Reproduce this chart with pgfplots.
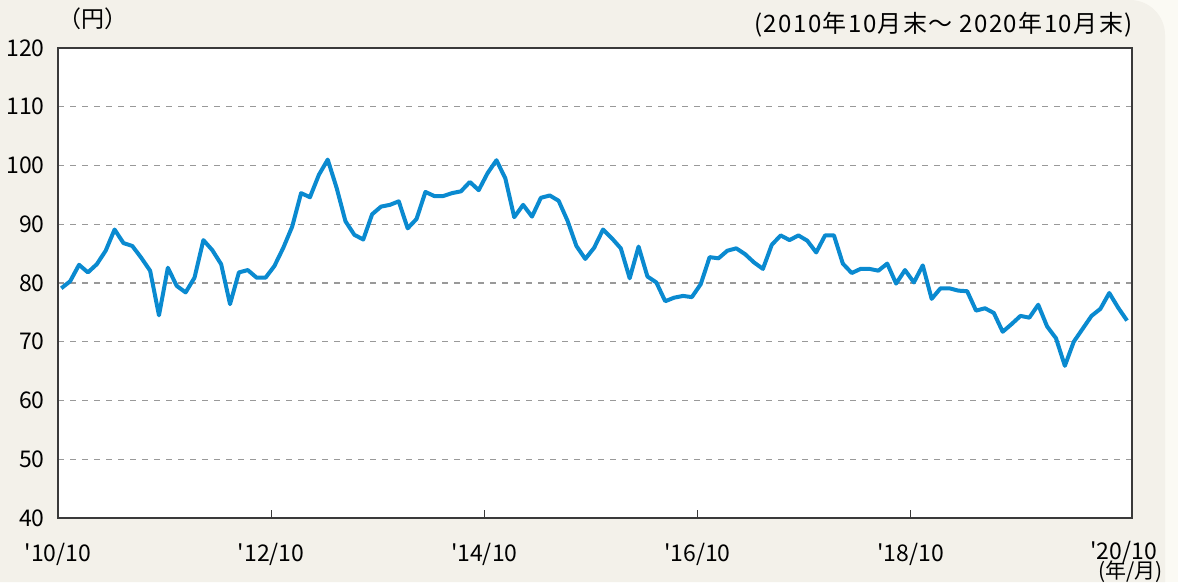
\documentclass[border=0pt]{standalone}
\usepackage{fontspec}
\setmainfont{Noto Sans CJK JP}[Ligatures=TeXOff]
\usepackage{pgfplots}
\pgfplotsset{compat=1.18}
\definecolor{bgpanel}{HTML}{F3F1EA}
\definecolor{bgout}{HTML}{FBFAF4}
\definecolor{series}{HTML}{0A8AD0}
\definecolor{axisgray}{HTML}{3A3A3A}

\pgfplotstableread{
x y
0 79.1
1 80.3
2 83.1
3 81.8
4 83.2
5 85.5
6 89.1
7 86.8
8 86.3
9 84.3
10 82.1
11 74.5
12 82.6
13 79.5
14 78.4
15 80.9
16 87.3
17 85.6
18 83.2
19 76.4
20 81.8
21 82.2
22 80.9
23 80.9
24 82.9
25 86.0
26 89.6
27 95.3
28 94.6
29 98.4
30 101.0
31 96.2
32 90.5
33 88.2
34 87.4
35 91.7
36 93.0
37 93.3
38 93.9
39 89.3
40 90.9
41 95.5
42 94.8
43 94.8
44 95.3
45 95.6
46 97.2
47 95.8
48 98.7
49 100.9
50 97.8
51 91.2
52 93.3
53 91.3
54 94.5
55 94.9
56 94.0
57 90.6
58 86.3
59 84.1
60 86.0
61 89.1
62 87.6
63 85.9
64 80.8
65 86.2
66 81.1
67 80.1
68 76.9
69 77.5
70 77.8
71 77.6
72 79.8
73 84.4
74 84.2
75 85.5
76 85.9
77 84.9
78 83.5
79 82.4
80 86.5
81 88.1
82 87.3
83 88.1
84 87.2
85 85.2
86 88.1
87 88.1
88 83.3
89 81.7
90 82.4
91 82.4
92 82.1
93 83.3
94 79.9
95 82.2
96 80.1
97 83.0
98 77.3
99 79.1
100 79.1
101 78.7
102 78.6
103 75.3
104 75.7
105 74.9
106 71.7
107 73.0
108 74.4
109 74.1
110 76.3
111 72.6
112 70.6
113 65.9
114 70.0
115 72.2
116 74.4
117 75.6
118 78.3
119 75.8
120 73.6
}\price

\begin{document}
\begin{tikzpicture}[x=1pt,y=1pt]
\fill[bgout] (0,0) rectangle (589,291);
\fill[bgpanel] (0,0) -- (0,291) -- (565,291) arc[start angle=90,end angle=0,radius=17.5] -- (582.5,0) -- cycle;
\begin{axis}[
  at={(29pt,32pt)}, anchor=south west,
  scale only axis, width=537pt, height=235pt,
  xmin=-0.37, xmax=120.56, ymin=40, ymax=120,
  axis background/.style={fill=white},
  axis line style={axisgray, line width=0.8pt},
  xtick={-0.37,23.63,47.63,71.63,95.63},
  xticklabels={'10/10,'12/10,'14/10,'16/10,'18/10},
  extra x ticks={119.63},
  extra x tick labels={'20/10},
  extra x tick style={major tick length=0pt, xticklabel style={yshift=1.2pt}},
  xtick pos=bottom, tick align=inside,
  major tick length=4pt,
  xtick style={axisgray, line width=0.6pt},
  ytick={40,50,...,120},
  ytick style={draw=none},
  ymajorgrids,
  grid style={gray!80, dashed, line width=0.6pt},
  /pgf/number format/assume math mode=true,
  ticklabel style={font=\fontsize{11.5}{13}\selectfont, text=black},
  yticklabel style={inner sep=0pt, xshift=-6.5pt},
  xticklabel style={anchor=base, inner sep=0pt, yshift=-21.8pt},
  clip=false,
]
\addplot[series, line width=2pt, line join=round, mark=none] table[x=x,y=y]{\price};
\end{axis}
\node[anchor=base west, inner sep=0pt, font=\fontsize{11.5}{13}\selectfont] at (29,277) {（円）};
\node[anchor=base east, inner sep=0pt, font=\fontsize{12}{13}\selectfont\addfontfeatures{LetterSpace=6}] at (566.5,274.5) {(2010年10月末～ 2020年10月末)};
\node[anchor=base east, inner sep=0pt, font=\fontsize{10.5}{12}\selectfont] at (581.5,1.6) {(年/月)};
\end{tikzpicture}
\end{document}
